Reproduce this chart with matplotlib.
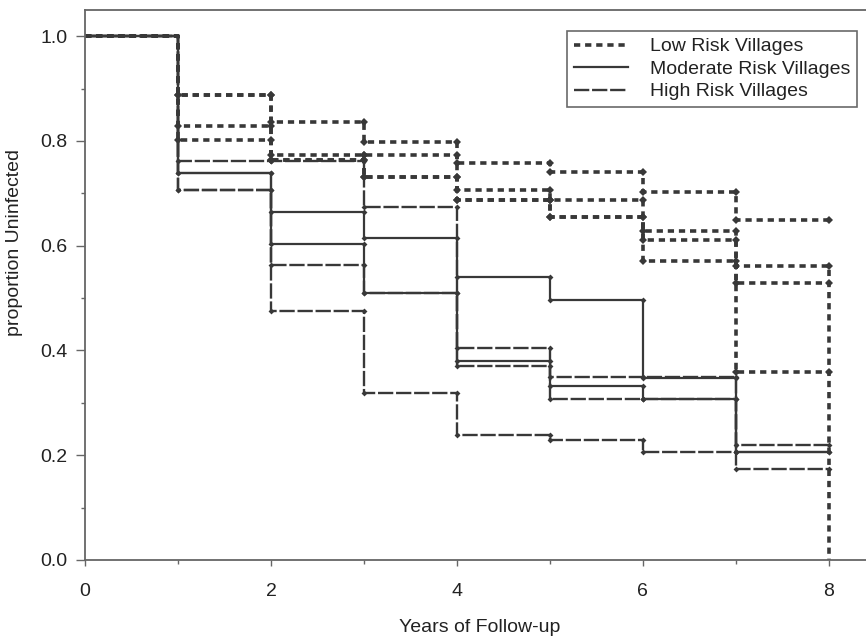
import matplotlib
matplotlib.use("Agg")
import matplotlib.pyplot as plt
from matplotlib.lines import Line2D
from matplotlib.ticker import MultipleLocator

plt.rcParams["font.family"] = ["Liberation Sans", "DejaVu Sans"]
plt.rcParams["lines.scale_dashes"] = False

years = list(range(9))

# proportion uninfected on each yearly interval [k, k+1), one list per village
low_risk = [
    [1.0, 0.887, 0.836, 0.798, 0.757, 0.741, 0.703, 0.650],
    [1.0, 0.887, 0.773, 0.773, 0.706, 0.687, 0.629, 0.562],
    [1.0, 0.828, 0.763, 0.731, 0.687, 0.655, 0.610, 0.528],
    [1.0, 0.801, 0.763, 0.731, 0.687, 0.655, 0.570, 0.359],
]
low_drop = [False, True, False, False]

moderate_risk = [
    [1.0, 0.738, 0.664, 0.614, 0.540, 0.496, 0.347, 0.206],
    [1.0, 0.738, 0.603, 0.509, 0.379, 0.333, 0.308, 0.206],
]
moderate_drop = [False, False]

high_risk = [
    [1.0, 0.707, 0.475, 0.319, 0.239, 0.230, 0.206],
    [1.0, 0.762, 0.762, 0.673, 0.405, 0.350, 0.350, 0.219],
    [1.0, 0.707, 0.563, 0.509, 0.370, 0.308, 0.308, 0.174],
]
high_drop = [False, False, False]

labels = ["Low Risk Villages", "Moderate Risk Villages", "High Risk Villages"]

ink = "#383838"
styles = {
    "low": dict(color=ink, lw=2.6, dashes=(4.5, 3.5)),
    "moderate": dict(color=ink, lw=1.6, linestyle="-"),
    "high": dict(color=ink, lw=1.7, dashes=(11, 2)),
}

fig = plt.figure(figsize=(8.66, 6.38), dpi=100)
ax = fig.add_axes([85 / 866, (638 - 560) / 638, 1 - 85 / 866, (560 - 10) / 638])


def draw_curve(vals, drop, style, ms):
    end = len(vals)
    x = years[:end + 1]
    y = list(vals) + [0.0 if drop else vals[-1]]
    ax.step(x, y, where="post", **style)
    mx, my = [], []
    for k in range(1, end):
        mx += [k, k + 1]
        my += [vals[k], vals[k]]
    ax.plot(mx, my, ls="none", marker="D", ms=ms, color=ink, mew=0)


for vals, drop in zip(low_risk, low_drop):
    draw_curve(vals, drop, styles["low"], 4)
for vals, drop in zip(moderate_risk, moderate_drop):
    draw_curve(vals, drop, styles["moderate"], 3)
for vals, drop in zip(high_risk, high_drop):
    draw_curve(vals, drop, styles["high"], 3)

ax.set_xlim(0, 8.4)
ax.set_ylim(0, 1.05)
ax.xaxis.set_major_locator(MultipleLocator(2))
ax.xaxis.set_minor_locator(MultipleLocator(1))
ax.yaxis.set_major_locator(MultipleLocator(0.2))
ax.yaxis.set_minor_locator(MultipleLocator(0.1))
ax.yaxis.set_major_formatter(lambda v, p: f"{v:.1f}")

for side in ["left", "bottom", "top"]:
    ax.spines[side].set_color("#666666")
    ax.spines[side].set_linewidth(1.3)
ax.spines["right"].set_visible(False)

ax.tick_params(which="major", direction="out", length=6.5, width=1,
               color="#666666", labelsize=14, pad=6, labelcolor="#222222")
ax.tick_params(which="minor", direction="out", length=3, width=1, color="#666666")
ax.tick_params(axis="x", which="major", length=4.5, pad=12)

ax.set_xlabel("Years of Follow-up", fontsize=14, color="#222222")
ax.set_ylabel("proportion Uninfected", fontsize=14, color="#222222")
ax.xaxis.set_label_coords(0.506, -0.108)
ax.yaxis.set_label_coords(-0.079, 0.578)

handles = [
    Line2D([], [], **styles["low"]),
    Line2D([], [], **styles["moderate"]),
    Line2D([], [], **styles["high"]),
]
leg = ax.legend(handles, labels, loc="upper right",
                bbox_to_anchor=(857 / 866, 1 - 31 / 638),
                bbox_transform=fig.transFigure, borderaxespad=0,
                fontsize=14, handlelength=2.8, handletextpad=1.1,
                labelspacing=0.25, borderpad=0.35, frameon=True, fancybox=False)
leg.get_frame().set_edgecolor("#444444")
leg.get_frame().set_linewidth(1.2)
for t in leg.get_texts():
    t.set_color("#222222")

fig.savefig("out.png", dpi=100, facecolor="white")
